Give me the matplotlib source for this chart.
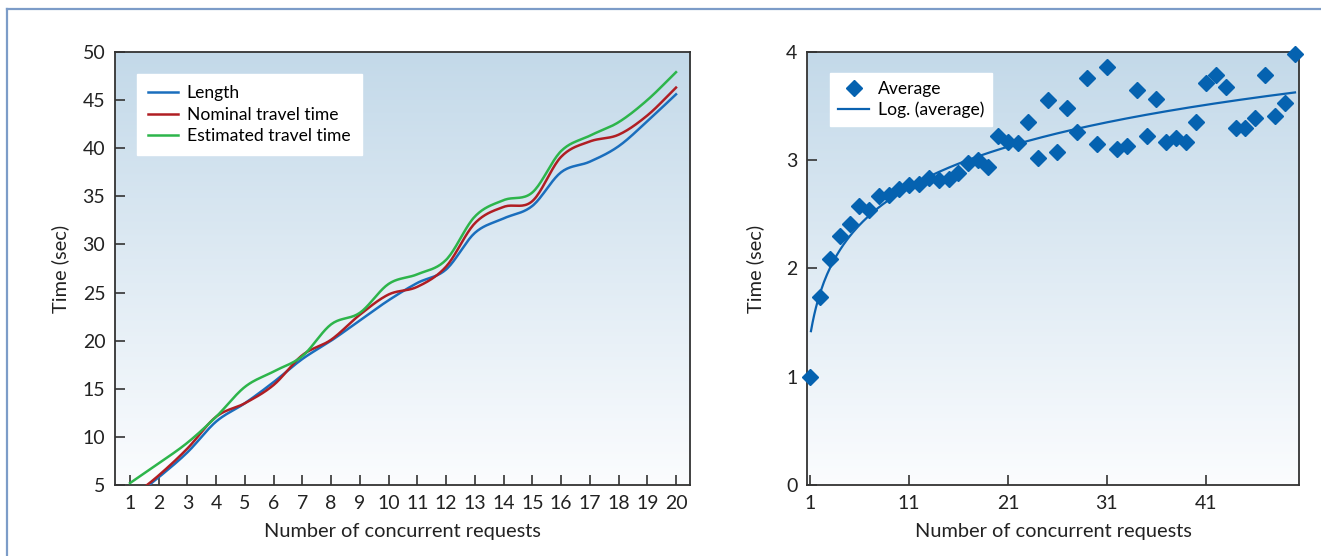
import numpy as np
import matplotlib.pyplot as plt
from matplotlib.lines import Line2D

plt.rcParams['font.family'] = ['Lato', 'DejaVu Sans']

# left chart data
req = list(range(1, 21))
length = [3.4, 5.8, 8.4, 11.6, 13.5, 15.7, 18.1, 20.0, 22.1, 24.2,
          26.0, 27.4, 31.2, 32.7, 34.0, 37.5, 38.6, 40.2, 42.8, 45.6]
nominal = [3.6, 6.0, 8.8, 12.1, 13.5, 15.4, 18.5, 20.1, 22.7, 24.8,
           25.6, 27.7, 32.2, 33.9, 34.5, 39.1, 40.7, 41.4, 43.4, 46.3]
estimated = [5.2, 7.25, 9.4, 12.1, 15.2, 16.8, 18.4, 21.7, 22.9, 25.9,
             26.9, 28.4, 32.9, 34.6, 35.4, 39.7, 41.3, 42.7, 45.0, 47.9]

# right chart data
avg = [1.00, 1.74, 2.09, 2.30, 2.41, 2.58, 2.54, 2.67, 2.68, 2.73,
       2.77, 2.78, 2.84, 2.82, 2.83, 2.88, 2.97, 3.00, 2.94, 3.22,
       3.17, 3.16, 3.35, 3.02, 3.56, 3.08, 3.48, 3.26, 3.76, 3.15,
       3.86, 3.10, 3.13, 3.65, 3.22, 3.57, 3.17, 3.21, 3.17, 3.35,
       3.71, 3.79, 3.68, 3.30, 3.30, 3.39, 3.79, 3.41, 3.53, 3.98]
n_req = np.arange(1, len(avg) + 1)


def smooth(x, y, steps=20):
    # catmull-rom, close to excel's smoothed line
    x = np.asarray(x, float)
    y = np.asarray(y, float)
    px = np.concatenate([[2 * x[0] - x[1]], x, [2 * x[-1] - x[-2]]])
    py = np.concatenate([[2 * y[0] - y[1]], y, [2 * y[-1] - y[-2]]])
    t = np.linspace(0, 1, steps, endpoint=False)
    xs, ys = [], []
    for i in range(1, len(px) - 2):
        for p, out in ((px, xs), (py, ys)):
            p0, p1, p2, p3 = p[i - 1], p[i], p[i + 1], p[i + 2]
            out.extend(0.5 * (2 * p1 + (-p0 + p2) * t
                              + (2 * p0 - 5 * p1 + 4 * p2 - p3) * t ** 2
                              + (-p0 + 3 * p1 - 3 * p2 + p3) * t ** 3))
    xs.append(x[-1])
    ys.append(y[-1])
    return np.array(xs), np.array(ys)


def gradient(ax):
    g = np.linspace(0, 1, 256).reshape(-1, 1)
    top = np.array([0.765, 0.851, 0.914])
    bot = np.array([0.985, 0.99, 0.997])
    img = top + (bot - top) * g[:, :, None]
    ax.imshow(img, extent=[0, 1, 0, 1], transform=ax.transAxes,
              aspect='auto', zorder=0)


fig = plt.figure(figsize=(13.21, 5.56), dpi=100)
fs = 14.4
tfs = 14
lfs = 12.6
dark = '#333333'
txt = '#222222'

ax1 = fig.add_axes([0.0871, 0.1277, 0.4353, 0.7788])
gradient(ax1)
colors = ['#1a6ebd', '#b01e23', '#2db54b']
names = ['Length', 'Nominal travel time', 'Estimated travel time']
for data, c, nm in zip([length, nominal, estimated], colors, names):
    sx, sy = smooth(req, data)
    ax1.plot(sx, sy, color=c, lw=1.8, label=nm, zorder=3)
ax1.set_xlim(0.48, 20.49)
ax1.set_ylim(5, 50)
ax1.set_xticks(req)
ax1.set_yticks(range(5, 51, 5))
ax1.set_xlabel('Number of concurrent requests', fontsize=fs, color=txt,
               labelpad=8)
ax1.set_ylabel('Time (sec)', fontsize=fs, color=txt, labelpad=10)
leg = ax1.legend(loc='upper left', bbox_to_anchor=(0.038, 0.949),
                 borderaxespad=0, fontsize=lfs, frameon=True, fancybox=False,
                 handlelength=1.7, handletextpad=0.5, borderpad=0.65,
                 labelspacing=0.3)
leg.get_frame().set_edgecolor('white')
leg.get_frame().set_alpha(1)

ax2 = fig.add_axes([0.6109, 0.1277, 0.3724, 0.7788])
gradient(ax2)
a, b = np.polyfit(np.log(n_req), avg, 1)
xt = np.linspace(1.1, n_req[-1], 300)
ax2.plot(xt, a * np.log(xt) + b, color='#0b62b0', lw=1.6, zorder=3,
         label='Log. (average)')
ax2.plot(n_req, avg, 'D', color='#0562b0', ms=8.5, zorder=4, label='Average',
         clip_on=False)
ax2.set_xlim(0.7, 50.4)
ax2.set_ylim(0, 4)
ax2.set_xticks([1, 11, 21, 31, 41])
ax2.set_yticks([0, 1, 2, 3, 4])
ax2.set_xlabel('Number of concurrent requests', fontsize=fs, color=txt,
               labelpad=8)
ax2.set_ylabel('Time (sec)', fontsize=fs, color=txt, labelpad=16)
h, l = ax2.get_legend_handles_labels()
leg2 = ax2.legend([h[1], h[0]], [l[1], l[0]], loc='upper left',
                  bbox_to_anchor=(0.047, 0.951), borderaxespad=0,
                  fontsize=lfs, frameon=True, fancybox=False,
                  handlelength=1.8, handletextpad=0.5, borderpad=0.45,
                  labelspacing=0.25)
leg2.get_frame().set_edgecolor('white')
leg2.get_frame().set_alpha(1)

for ax in (ax1, ax2):
    for s in ax.spines.values():
        s.set_color(dark)
        s.set_linewidth(1.3)
    ax.tick_params(direction='in', length=7, width=1.2, color=dark,
                   labelsize=tfs, labelcolor=txt, pad=7)

# outer frame
fig.add_artist(Line2D([7 / 1321, 7 / 1321], [0, 1 - 9 / 556],
                      transform=fig.transFigure, color='#7c9cc8', lw=1.6))
fig.add_artist(Line2D([7 / 1321, 1], [1 - 9 / 556, 1 - 9 / 556],
                      transform=fig.transFigure, color='#7c9cc8', lw=1.6))

fig.savefig('out.png', dpi=100)
